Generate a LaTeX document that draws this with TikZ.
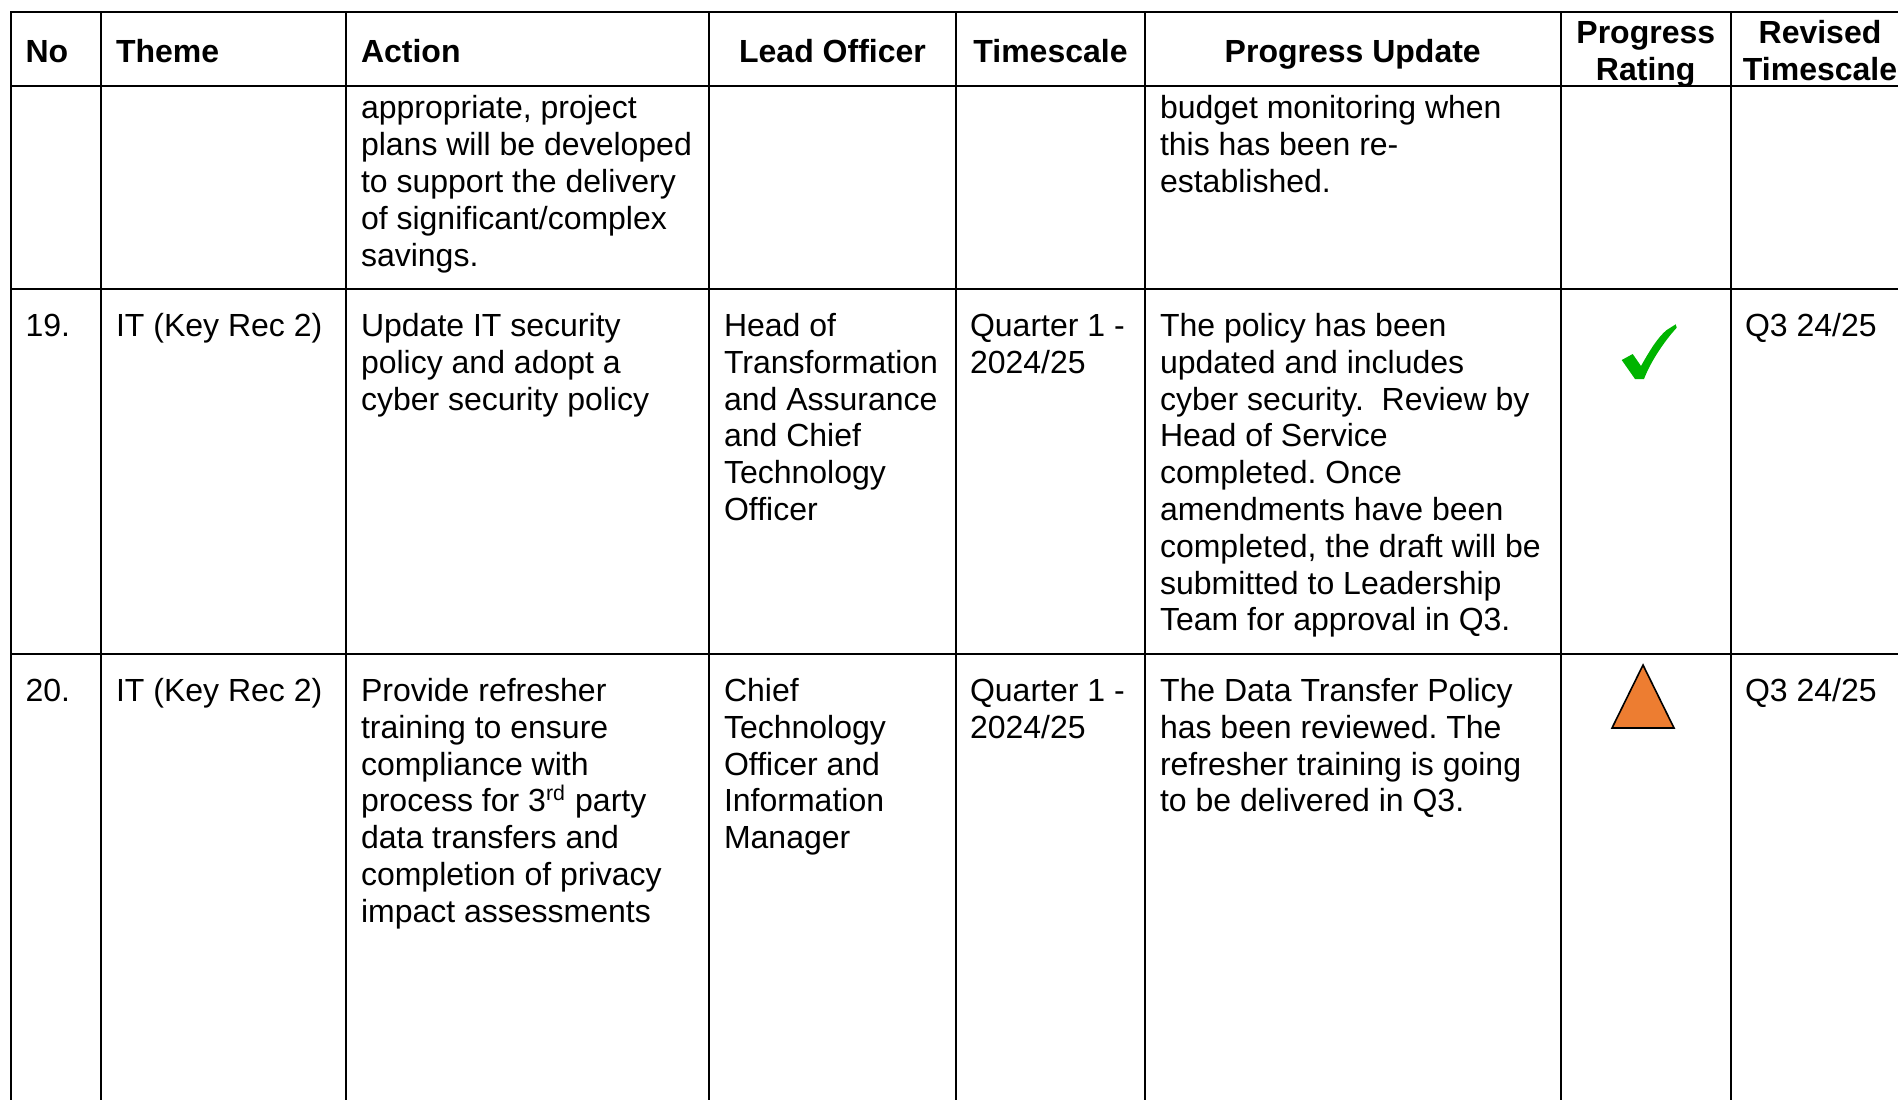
\documentclass[tikz,border=0pt]{standalone}
\usepackage{fontspec}
\setmainfont{Liberation Sans}
\definecolor{tickgreen}{RGB}{0,180,0}
\definecolor{amber}{RGB}{237,125,49}
\begin{document}
\frenchspacing
\begin{tikzpicture}[x=0.375pt,y=-0.375pt,
  grid/.style={line width=0.75pt, draw=black, line cap=rect},
  cell/.style={anchor=north west, inner sep=0pt, align=left, font=\fontsize{12}{13.8}\selectfont},
  hcell/.style={anchor=north west, inner sep=0pt, align=left, font=\fontsize{12}{13.8}\selectfont\bfseries},
  hcenter/.style={anchor=north, inner sep=0pt, align=center, font=\fontsize{12}{13.8}\selectfont\bfseries}]
\useasboundingbox (0,0) rectangle (1898,1099);
\clip (0,0) rectangle (1898,1099);
\fill[white] (0,0) rectangle (1898,1099);
% grid
\foreach \x in {11,101,346,709,956,1145,1560.5,1731} \draw[grid] (\x,12) -- (\x,1105);
\foreach \y in {12,86,289,654} \draw[grid] (11,\y) -- (1905,\y);
% header
\node[hcell] (hNo) at (25,35.7) {\strut No};
\node[hcell] (hTheme) at (115.5,35.7) {\strut Theme};
\node[hcell] (hAction) at (360.5,35.7) {\strut Action};
\node[hcenter] (hLead) at (832.5,35.7) {\strut Lead Officer};
\node[hcenter] (hTime) at (1050.5,35.7) {\strut Timescale};
\node[hcenter] (hUpd) at (1352.75,35.7) {\strut Progress Update};
\node[hcenter] (hRate) at (1645.75,17) {\strut Progress\\Rating};
\node[hcenter] (hRev) at (1820,17) {\strut Revised\\Timescale};
% row (continued)
\node[cell] (r1act) at (360.5,92.5) {\strut appropriate, project\\plans will be developed\\to support the delivery\\of significant/complex\\savings.};
\node[cell] (r1upd) at (1159.5,92.5) {\strut budget monitoring when\\this has been re-\\established.};
% row 19
\node[cell] (r2no) at (25,310.2) {\strut 19.};
\node[cell] (r2theme) at (115.5,310.2) {\strut IT (Key Rec 2)};
\node[cell] (r2act) at (360.5,310.2) {\strut Update IT security\\policy and adopt a\\cyber security policy};
\node[cell] (r2lead) at (723.5,310.2) {\strut Head of\\Transformation\\and Assurance\\and Chief\\Technology\\Officer};
\node[cell] (r2time) at (969.5,310.2) {\strut Quarter 1 -\\2024/25};
\node[cell] (r2upd) at (1159.5,310.2) {\strut The policy has been\\updated and includes\\cyber security.~~Review by\\Head of Service\\completed. Once\\amendments have been\\completed, the draft will be\\submitted to Leadership\\Team for approval in Q3.};
\node[cell] (r2rev) at (1744.5,310.2) {\strut Q3 24/25};
\fill[tickgreen] (1621.7,360) -- (1632.7,354) -- (1641,366)
  .. controls (1650,350) and (1658,337) .. (1666.7,330)
  -- (1675.7,324.3) -- (1676.7,327.7)
  .. controls (1668,337) and (1652,358) .. (1644,379)
  -- (1635,379) -- cycle;
% row 20
\node[cell] (r3no) at (25,675.2) {\strut 20.};
\node[cell] (r3theme) at (115.5,675.2) {\strut IT (Key Rec 2)};
\node[cell] (r3act) at (360.5,675.2) {\strut Provide refresher\\training to ensure\\compliance with\\process for 3\textsuperscript{rd} party\\data transfers and\\completion of privacy\\impact assessments};
\node[cell] (r3lead) at (723.5,675.2) {\strut Chief\\Technology\\Officer and\\Information\\Manager};
\node[cell] (r3time) at (969.5,675.2) {\strut Quarter 1 -\\2024/25};
\node[cell] (r3upd) at (1159.5,675.2) {\strut The Data Transfer Policy\\has been reviewed. The\\refresher training is going\\to be delivered in Q3.};
\node[cell] (r3rev) at (1744.5,675.2) {\strut Q3 24/25};
\draw[fill=amber, line width=0.6pt, line join=miter] (1643,665) -- (1674,728) -- (1612,728) -- cycle;
\end{tikzpicture}
\end{document}
